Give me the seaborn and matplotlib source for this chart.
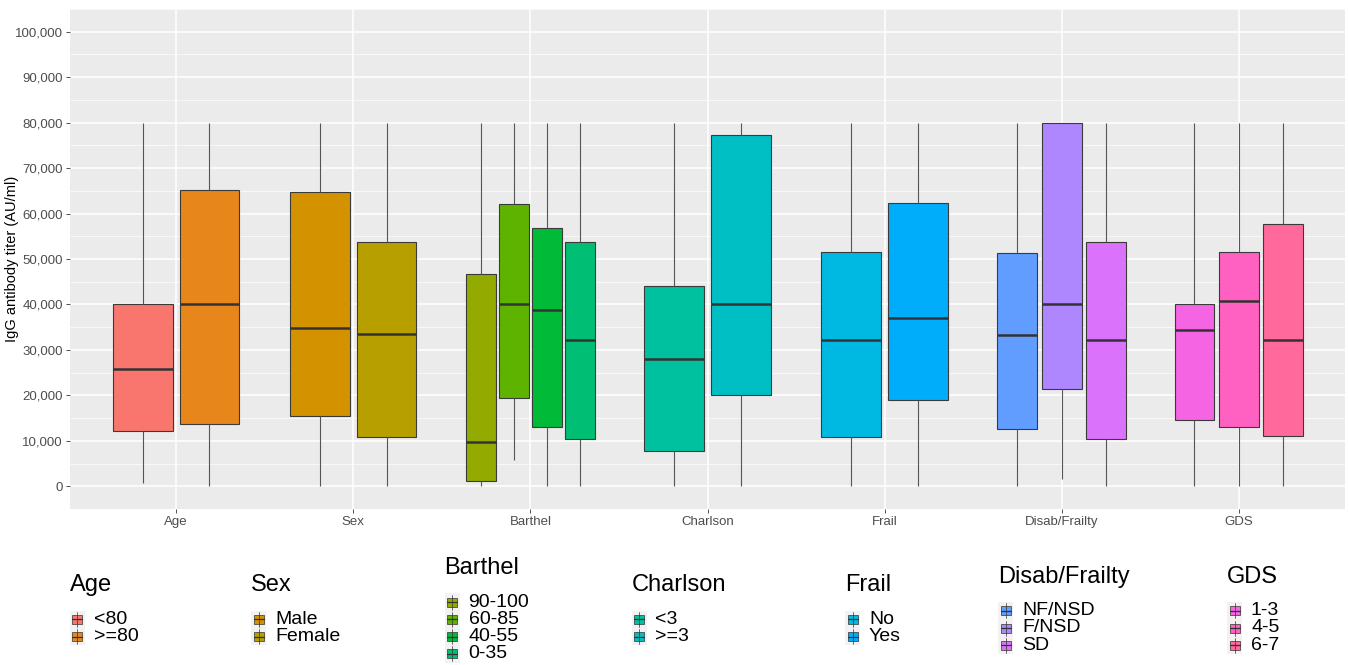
import matplotlib
matplotlib.use("Agg")
import matplotlib.pyplot as plt
from matplotlib.patches import Rectangle
from matplotlib.lines import Line2D
from matplotlib.ticker import FuncFormatter, MultipleLocator
import pandas as pd
import seaborn as sns

# === Data ===
groups = ["Age", "Sex", "Barthel", "Charlson", "Frail", "Disab/Frailty", "GDS"]
levels = [
    ["<80", ">=80"],
    ["Male", "Female"],
    ["90-100", "60-85", "40-55", "0-35"],
    ["<3", ">=3"],
    ["No", "Yes"],
    ["NF/NSD", "F/NSD", "SD"],
    ["1-3", "4-5", "6-7"],
]
colors = ["#F8766D", "#E7861B", "#D39200", "#B79F00", "#93AA00", "#5EB300",
          "#00BA38", "#00BF74", "#00C19F", "#00BFC4", "#00B9E3", "#00ADFA",
          "#619CFF", "#AE87FF", "#DB72FB", "#F564E3", "#FF61C3", "#FF699C"]

# box statistics, one value per level in the order above
box_min = [700, 0, 0, 0, 0, 5800, 0, 0, 0, 0, 0, 0, 0, 1500, 0, 0, 0, 0]
box_q1 = [12200, 13600, 15400, 10900, 1100, 19400, 13100, 10400, 7700, 20000,
          10900, 19000, 12600, 21500, 10400, 14600, 13000, 11100]
box_med = [25900, 40000, 34900, 33400, 9800, 40100, 38700, 32100, 28100, 40000,
           32100, 37000, 33300, 40000, 32100, 34400, 40800, 32100]
box_q3 = [40000, 65100, 64700, 53700, 46800, 62200, 56900, 53800, 44000, 77200,
          51500, 62300, 51400, 80000, 53800, 40000, 51600, 57700]
box_max = [80000] * 18

# long table: five values per box give exactly those quartiles / extremes
rows = []
k = 0
for g, levs in zip(groups, levels):
    for lev in levs:
        for v in (box_min[k], box_q1[k], box_med[k], box_q3[k], box_max[k]):
            rows.append({"group": g, "level": lev, "titer": v})
        k += 1
df = pd.DataFrame(rows)

# === Style ===
sns.set_theme(style="darkgrid", rc={
    "axes.facecolor": "#EBEBEB",
    "grid.color": "white",
    "axes.edgecolor": "#EBEBEB",
})
plt.rcParams["font.family"] = ["Liberation Sans", "DejaVu Sans"]

W, H = 1349, 665
fig = plt.figure(figsize=(W / 100, H / 100), dpi=100)
ax = fig.add_axes([70 / W, 1 - 509 / H, 1275 / W, 500 / H])

k = 0
for g, levs in zip(groups, levels):
    pal = dict(zip(levs, colors[k:k + len(levs)]))
    k += len(levs)
    sns.boxplot(data=df[df["group"] == g], x="group", y="titer", hue="level",
                order=groups, hue_order=levs, palette=pal, width=0.75, gap=0.1,
                whis=(0, 100), saturation=1, linecolor="#3A3A3A", linewidth=0.8,
                showcaps=False, legend=False,
                whiskerprops={"color": "#555555"},
                medianprops={"linewidth": 1.8, "color": "#333333"}, ax=ax)

ax.set_xlim(-0.6, 6.6)
ax.set_ylim(-5000, 105000)
ax.set_xticks(range(len(groups)))
ax.set_xticklabels(groups)
ax.yaxis.set_major_locator(MultipleLocator(10000))
ax.yaxis.set_minor_locator(MultipleLocator(5000))
ax.yaxis.set_major_formatter(FuncFormatter(lambda v, p: f"{int(v):,}"))
ax.grid(which="major", color="white", linewidth=1.1)
ax.grid(which="minor", axis="y", color="white", linewidth=0.5)
ax.set_axisbelow(True)
for s in ax.spines.values():
    s.set_visible(False)
ax.tick_params(axis="both", which="major", length=3, width=0.6, color="#333333",
               labelsize=9.5, labelcolor="#4D4D4D", pad=2, bottom=True, left=True)
ax.tick_params(axis="y", which="minor", length=0)
ax.set_xlabel("")
ax.set_ylabel("IgG antibody titer (AU/ml)", fontsize=10.5, color="black")
ax.yaxis.set_label_coords(-51 / 1275, 0.5)

# === Legends along the bottom (ggplot-like boxplot keys) ===
lax = fig.add_axes([0, 0, 1, 1])
lax.set_xlim(0, W)
lax.set_ylim(H, 0)
lax.axis("off")

legend_x = [69.6, 251, 444.5, 631.5, 845, 998, 1227]
center_y, step, title_gap = 611, 17.3, 34
k = 0
for g, levs, x0 in zip(groups, levels, legend_x):
    n = len(levs)
    total = title_gap + (n - 1) * step
    ty = center_y - total / 2
    lax.text(x0, ty, g, fontsize=17, va="center", ha="left", color="black")
    for j, lev in enumerate(levs):
        y = ty + title_gap + j * step
        lax.add_patch(Rectangle((x0, y - step / 2), 15, step, facecolor="#F2F2F2",
                                edgecolor="none"))
        lax.add_line(Line2D([x0 + 7.5, x0 + 7.5], [y - 7.5, y + 7.5],
                            color="#333333", linewidth=0.5))
        lax.add_patch(Rectangle((x0 + 2.5, y - 4.5), 10, 9, facecolor=colors[k],
                                edgecolor="#333333", linewidth=0.5))
        lax.add_line(Line2D([x0 + 2.5, x0 + 12.5], [y, y], color="#333333",
                            linewidth=0.9))
        lax.text(x0 + 24, y, lev, fontsize=14, va="center", ha="left", color="black")
        k += 1

fig.savefig("out.png", dpi=100, facecolor="white")
plt.close(fig)
